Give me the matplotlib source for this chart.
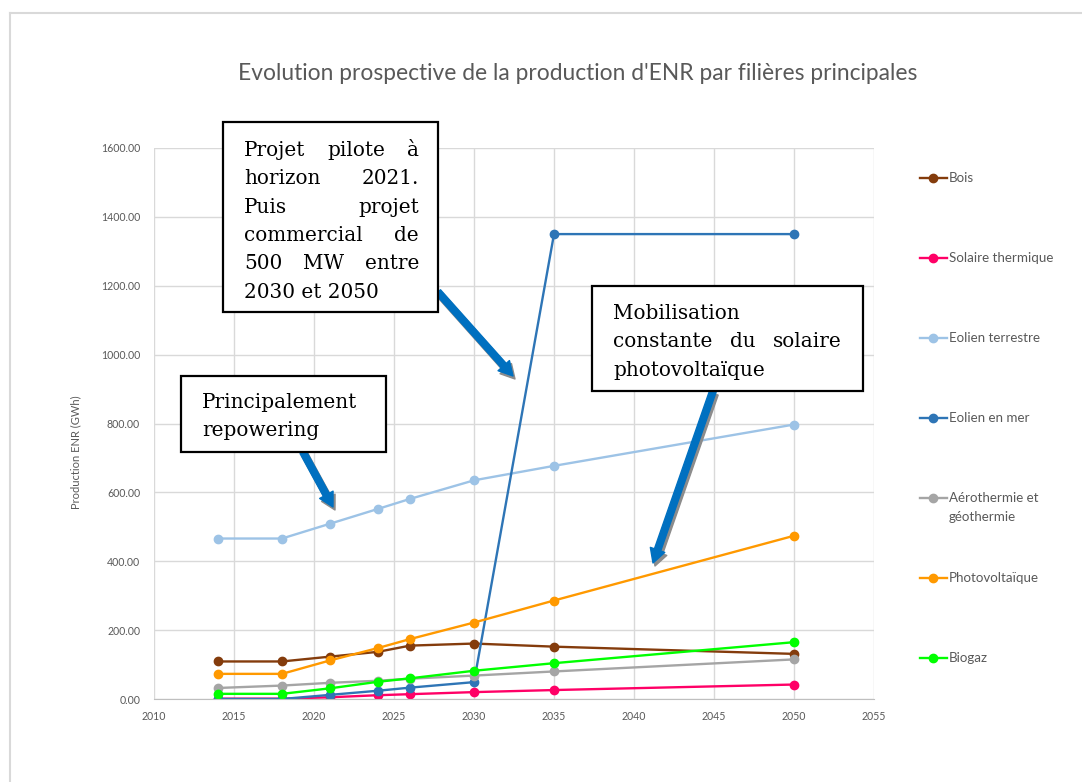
import numpy as np
import matplotlib
matplotlib.use('Agg')
from matplotlib import pyplot as plt
from matplotlib.patches import Rectangle, FancyArrowPatch
from matplotlib.lines import Line2D

# data (GWh)
years = [2014, 2018, 2021, 2024, 2026, 2030, 2035, 2050]
bois = [109, 109, 123, 137, 155, 161, 152, 131]
solaire_thermique = [1, 1, 5, 11, 14, 20, 26, 42]
eolien_terrestre = [466, 466, 509, 552, 581, 635, 677, 797]
eolien_mer = [0, 0, 12, 24, 33, 49, 1350, 1350]
aerothermie = [32, 39, 47, 53, 59, 68, 80, 115]
photovoltaique = [73, 73, 112, 148, 174, 222, 286, 474]
biogaz = [15, 15, 31, 50, 60, 82, 104, 165]

labels = ['Bois', 'Solaire thermique', 'Eolien terrestre', 'Eolien en mer',
          'Aérothermie et\ngéothermie', 'Photovoltaïque', 'Biogaz']
series = [bois, solaire_thermique, eolien_terrestre, eolien_mer,
          aerothermie, photovoltaique, biogaz]
colors = ['#843C0C', '#FF0066', '#9DC3E6', '#2E75B6', '#A5A5A5', '#FF9900', '#00FF00']

W, H = 1082, 782
grey = '#595959'
sans = ['Lato', 'DejaVu Sans']
serif = ['DejaVu Serif']

def fx(x):
    return x / W

def fy(y):
    return 1 - y / H

fig = plt.figure(figsize=(W / 100, H / 100), dpi=100)
ax = fig.add_axes([fx(154), fy(699), fx(874) - fx(154), fy(148) - fy(699)])

for vals, c in zip(series, colors):
    ax.plot(years, vals, color=c, lw=1.7, marker='o', ms=6, mec=c, mfc=c)

ax.set_xlim(2010, 2055)
ax.set_ylim(0, 1600)
ax.set_xticks(np.arange(2010, 2056, 5))
ax.set_yticks(np.arange(0, 1601, 200))
ax.set_yticklabels(['%.2f' % v for v in np.arange(0, 1601, 200)])
ax.tick_params(length=0, colors=grey, labelsize=7.6)
ax.tick_params(axis='y', pad=10)
ax.tick_params(axis='x', pad=9)
for lab in ax.get_xticklabels() + ax.get_yticklabels():
    lab.set_family(sans)
ax.grid(True, color='#D9D9D9', lw=1)
ax.set_axisbelow(True)
for s in ['top', 'right', 'left']:
    ax.spines[s].set_visible(False)
ax.spines['bottom'].set_color('#BFBFBF')

fig.text(fx(578), fy(73), "Evolution prospective de la production d'ENR par filières principales",
         ha='center', va='center', color=grey, fontsize=16.4, family=sans)
fig.text(fx(76), fy(452), 'Production ENR (GWh)', rotation=90, ha='center', va='center',
         color=grey, fontsize=8, family=sans)

# outer frame (top and left edges only visible)
fig.add_artist(Line2D([fx(10), 1], [fy(13), fy(13)], color='#D9D9D9', lw=1.5))
fig.add_artist(Line2D([fx(10), fx(10)], [fy(13), 0], color='#D9D9D9', lw=1.5))

# legend on the right
for i, (lab, c) in enumerate(zip(labels, colors)):
    y = 178 + 80 * i
    fig.add_artist(Line2D([fx(920), fx(947)], [fy(y), fy(y)], color=c, lw=1.7))
    fig.add_artist(Line2D([fx(933)], [fy(y)], color=c, marker='o', ms=6, mec=c, mfc=c))
    for k, part in enumerate(lab.split('\n')):
        fig.text(fx(949), fy(y + 19 * k), part, ha='left', va='center', color=grey,
                 fontsize=9.6, family=sans)

# annotation boxes
renderer = fig.canvas.get_renderer()
box_fs = 14.4

def text_box(x0, y0, x1, y1, lines, tx0, tx1, base, dy, just):
    fig.add_artist(Rectangle((fx(x0), fy(y1)), fx(x1) - fx(x0), fy(y0) - fy(y1),
                             transform=fig.transFigure, fc='white', ec='black', lw=1.6, zorder=5))
    for k, line in enumerate(lines):
        y = fy(base + dy * k)
        words = line.split()
        if not just[k] or len(words) == 1:
            fig.text(fx(tx0), y, line, ha='left', va='baseline', fontsize=box_fs,
                     family=serif, zorder=6)
            continue
        txts = [fig.text(0, y, w, ha='left', va='baseline', fontsize=box_fs,
                         family=serif, zorder=6) for w in words]
        widths = [t.get_window_extent(renderer).width for t in txts]
        gap = (tx1 - tx0 - sum(widths)) / (len(words) - 1)
        x = tx0
        for t, w in zip(txts, widths):
            t.set_x(fx(x))
            x += w + gap

def arrow(x0, y0, x1, y1):
    style = 'simple,head_length=10,head_width=11,tail_width=4.8'
    sh = FancyArrowPatch((fx(x0 + 2), fy(y0 + 3)), (fx(x1 + 2), fy(y1 + 3)),
                         transform=fig.transFigure, arrowstyle=style, color='#8C8C8C',
                         shrinkA=0, shrinkB=0, zorder=4)
    ar = FancyArrowPatch((fx(x0), fy(y0)), (fx(x1), fy(y1)),
                         transform=fig.transFigure, arrowstyle=style, color='#0070C0',
                         shrinkA=0, shrinkB=0, zorder=4.5)
    fig.add_artist(sh)
    fig.add_artist(ar)

arrow(303, 452, 333, 507)
arrow(438, 292, 513, 376)
arrow(713, 391, 653, 563)

text_box(223, 122, 438, 312,
         ['Projet pilote à', 'horizon 2021.', 'Puis projet', 'commercial de',
          '500 MW entre', '2030 et 2050'],
         244, 419, 156, 28.3, [True, True, True, True, True, False])
text_box(592, 286, 863, 391,
         ['Mobilisation', 'constante du solaire', 'photovoltaïque'],
         613, 842, 319, 28.3, [False, True, False])
text_box(181, 376, 386, 452,
         ['Principalement', 'repowering'],
         202, 380, 408, 28.3, [False, False])

fig.savefig('out.png', dpi=100)
